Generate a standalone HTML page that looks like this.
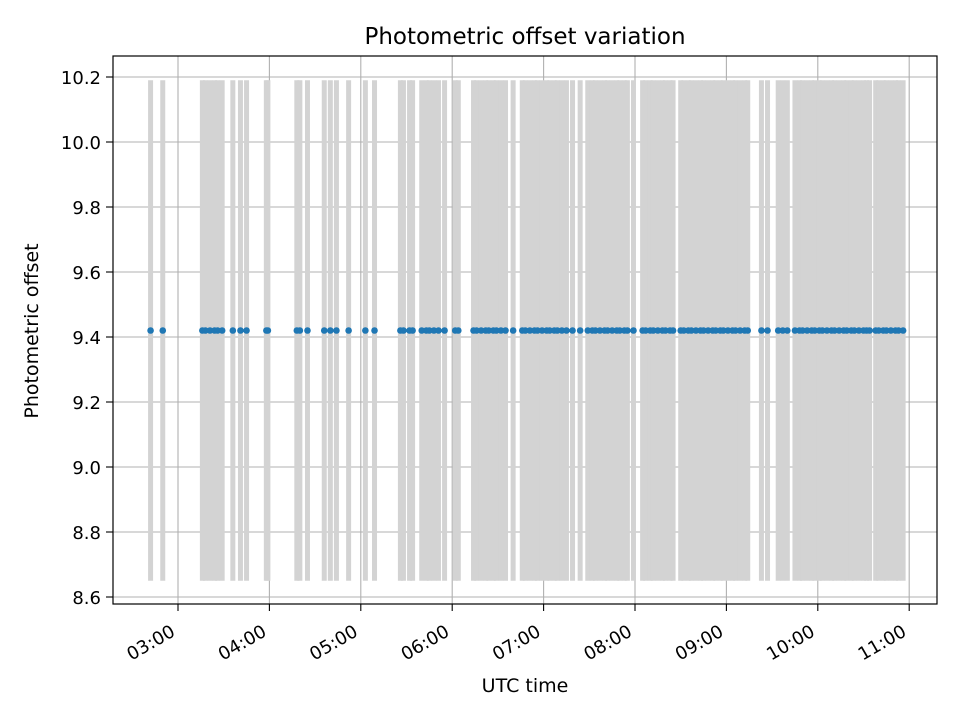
<!DOCTYPE html>
<html><head><meta charset="utf-8"><style>body{margin:0;background:#fff}svg{display:block;font-family:"DejaVu Sans","Liberation Sans",sans-serif}</style></head>
<body>
<svg id="chart" width="960" height="720">
<rect width="960" height="720" fill="#fff"/>
<g id="grid"></g><g id="bars"></g><g id="pts"></g>
<rect x="113" y="56" width="824" height="548" fill="none" stroke="#000" stroke-width="1.2"/>
<g id="axes"></g>
<text x="525" y="44" font-size="23" text-anchor="middle">Photometric offset variation</text>
<text x="525" y="692" font-size="19" text-anchor="middle">UTC time</text>
<text transform="translate(38,331) rotate(-90)" font-size="19" text-anchor="middle">Photometric offset</text>
</svg>
<script>
const times = ["02:42","02:50","03:16","03:18","03:21","03:24","03:26","03:29","03:36","03:41","03:45","03:58","03:59","04:18","04:20","04:25","04:36","04:40","04:44","04:52","05:03","05:09","05:26","05:28","05:32","05:34","05:40","05:43","05:45","05:48","05:51","05:55","06:02","06:04","06:14","06:16","06:19","06:22","06:24","06:27","06:29","06:32","06:35","06:40","06:46","06:48","06:51","06:54","06:56","06:59","07:02","07:04","07:07","07:09","07:12","07:15","07:19","07:24","07:29","07:32","07:34","07:37","07:40","07:42","07:45","07:48","07:50","07:53","07:55","07:59","08:05","08:07","08:10","08:12","08:15","08:18","08:20","08:23","08:25","08:30","08:32","08:35","08:37","08:40","08:43","08:45","08:48","08:51","08:53","08:56","08:58","09:01","09:04","09:06","09:09","09:12","09:14","09:23","09:27","09:34","09:37","09:40","09:45","09:48","09:50","09:53","09:56","09:58","10:01","10:03","10:06","10:09","10:11","10:14","10:17","10:19","10:22","10:24","10:27","10:30","10:32","10:34","10:38","10:40","10:43","10:45","10:48","10:51","10:53","10:56"];
const offsetValue = 9.42;
const offsetError = 0.77;
const yTicks = [8.6,8.8,9.0,9.2,9.4,9.6,9.8,10.0,10.2];
const xTickLabels = ["03:00","04:00","05:00","06:00","07:00","08:00","09:00","10:00","11:00"];
const NS="http://www.w3.org/2000/svg";
function toMin(s){const p=s.split(":");return +p[0]*60+ +p[1];}
function xS(m){return 178+(m-180)/60*91.4;}
function yS(v){return 337-(v-9.4)*325;}
function mk(t,a,par){const e=document.createElementNS(NS,t);for(const k in a)e.setAttribute(k,a[k]);document.getElementById(par).appendChild(e);return e;}
yTicks.forEach(v=>{const y=yS(v);
 const g=mk("line",{x1:113,x2:937,y1:y,y2:y,stroke:"#b0b0b0","stroke-width":1.1},"grid");
 
 
 mk("line",{x1:106,x2:113,y1:y,y2:y,stroke:"#000","stroke-width":1.1},"axes");
 const t=mk("text",{x:101,y:y+7,"font-size":18,"text-anchor":"end"},"axes");t.textContent=v.toFixed(1);
 
 
});
xTickLabels.forEach(s=>{const x=xS(toMin(s));
 const g=mk("line",{x1:x,x2:x,y1:56,y2:604,stroke:"#b0b0b0","stroke-width":1.1},"grid");
 
 
 mk("line",{x1:x,x2:x,y1:604,y2:611,stroke:"#000","stroke-width":1.1},"axes");
 const t=mk("text",{transform:`translate(${x-8},${624}) rotate(-30)`,"font-size":18,"text-anchor":"end",dy:"0.7em"},"axes");t.textContent=s;
 
 
});
times.forEach(s=>{const x=xS(toMin(s));
 const b=mk("line",{x1:x,x2:x,y1:yS(offsetValue-offsetError),y2:yS(offsetValue+offsetError),stroke:"#d3d3d3","stroke-width":5},"bars");
 
 
 const c=mk("circle",{cx:x,cy:yS(offsetValue),r:3.3,fill:"#1f77b4"},"pts");
 
 
});
</script>
</body></html>
